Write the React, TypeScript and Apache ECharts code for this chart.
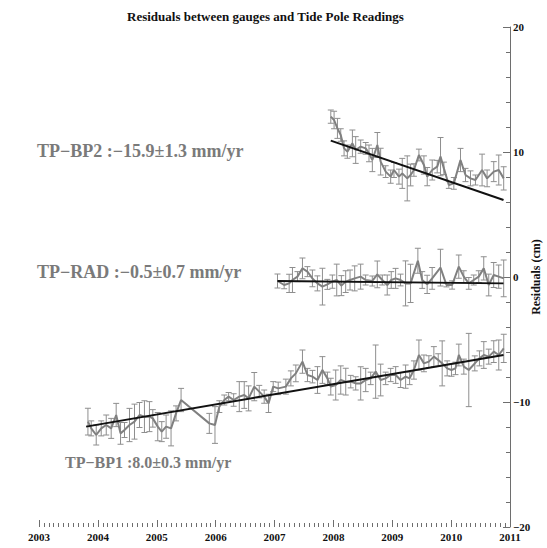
import React, { useEffect, useRef } from "react";
import * as echarts from "echarts";

const titleText = "Residuals between gauges and Tide Pole Readings";
const yAxisName = "Residuals (cm)";

const bp1Years = [2003.831, 2003.887, 2003.972, 2004.057, 2004.142, 2004.226, 2004.311, 2004.385, 2004.452, 2004.537, 2004.622, 2004.707, 2004.791, 2004.876, 2004.933, 2005.017, 2005.085, 2005.159, 2005.243, 2005.328, 2005.413, 2005.893, 2005.989, 2006.063, 2006.147, 2006.221, 2006.306, 2006.402, 2006.486, 2006.56, 2006.656, 2006.741, 2006.825, 2006.899, 2006.978, 2007.063,
  2007.193, 2007.278, 2007.362, 2007.475, 2007.56, 2007.645, 2007.73, 2007.814, 2007.899, 2007.956, 2008.04, 2008.125, 2008.21, 2008.295, 2008.379, 2008.464, 2008.549, 2008.634, 2008.718, 2008.803, 2008.888, 2008.973, 2009.058, 2009.142, 2009.227, 2009.295, 2009.368, 2009.453, 2009.538, 2009.622, 2009.707, 2009.781, 2009.848, 2009.933, 2010.006, 2010.074, 2010.131, 2010.216, 2010.3, 2010.402, 2010.481, 2010.555, 2010.639, 2010.724, 2010.809, 2010.894];
const bp1Values = [-11.57, -12.11, -12.64, -12.11, -11.84, -12.11, -11.04, -12.51, -12.24, -11.84, -11.57, -11.04, -11.17, -11.17, -11.31, -11.97, -12.37, -11.97, -12.11, -10.91, -9.84, -11.71, -11.84, -10.37, -9.84, -9.57, -9.84, -9.57, -9.44, -9.71, -8.77, -9.17, -9.57, -10.11, -8.77, -8.91,
  -8.77, -8.11, -7.71, -6.77, -7.84, -7.97, -8.24, -7.44, -8.11, -8.77, -8.64, -8.24, -8.37, -8.37, -8.51, -8.51, -8.24, -8.11, -7.57, -8.24, -8.11, -7.84, -7.84, -8.24, -7.97, -8.11, -7.44, -6.24, -6.91, -6.77, -6.37, -6.64, -6.91, -7.31, -7.44, -7.31, -6.24, -7.17, -7.44, -6.91, -6.51, -6.24, -6.37, -5.97, -6.24, -5.71];
const bp1Errors = [1.07, 0.6, 0.8, 0.6, 0.8, 0.8, 0.93, 0.87, 0.6, 1.33, 1.4, 1.0, 1.27, 1.2, 0.7, 1.13, 0.8, 0.93, 1.4, 0.6, 0.93, 0.8, 1.47, 0.47, 0.4, 0.33, 0.5, 1.2, 1.07, 1.0, 1.13, 0.5, 0.53, 0.73, 0.4, 0.5,
  0.6, 0.6, 0.67, 0.93, 0.53, 0.5, 1.07, 1.07, 0.5, 0.67, 1.2, 1.13, 1.07, 0.5, 0.53, 1.33, 0.93, 0.5, 2.13, 1.27, 0.5, 0.53, 0.67, 0.6, 0.93, 0.5, 0.73, 1.2, 0.67, 0.47, 0.8, 0.5, 1.8, 0.6, 0.5, 0.5, 0.87, 0.6, 2.93, 0.6, 0.6, 1.07, 0.6, 0.87, 1.2, 1.13];

const radYears = [2007.051, 2007.164, 2007.249, 2007.305, 2007.39, 2007.475, 2007.559, 2007.644, 2007.729, 2007.814, 2007.898, 2007.983, 2008.057, 2008.136, 2008.209, 2008.283, 2008.362, 2008.463, 2008.548, 2008.661, 2008.746, 2008.831, 2008.915, 2008.983, 2009.057, 2009.141, 2009.226, 2009.311, 2009.435, 2009.509, 2009.593, 2009.678, 2009.819, 2009.921, 2010.017, 2010.13, 2010.215, 2010.3, 2010.384, 2010.469, 2010.554, 2010.639, 2010.723, 2010.808, 2010.893];
const radValues = [-0.32, -0.64, -0.51, -0.24, 0.03, 0.69, 0.43, -0.11, -0.51, -0.77, -0.59, -0.37, -0.24, -0.69, -0.37, -0.24, -0.11, 0.03, -0.24, -0.32, 0.21, -0.24, -0.64, -0.24, -0.11, -0.24, -0.51, -0.51, 1.3, -0.24, -0.59, -0.11, 0.75, -0.64, -0.64, 0.83, 0.03, -0.51, -0.24, 0.03, 0.69, -0.64, 0.16, 0.03, -0.11];
const radErrors = [0.56, 0.3, 0.73, 1.0, 0.4, 0.83, 0.4, 0.67, 0.6, 1.47, 0.4, 0.53, 1.27, 0.8, 0.87, 0.8, 1.0, 1.0, 0.4, 0.4, 1.07, 0.4, 0.8, 0.67, 0.8, 0.47, 1.8, 1.53, 1.0, 0.67, 0.73, 0.87, 1.47, 0.15, 0.33, 0.93, 0.47, 0.47, 0.4, 0.47, 0.93, 0.87, 1.0, 0.93, 1.47];

const bp2Years = [2007.956, 2008.012, 2008.069, 2008.125, 2008.182, 2008.238, 2008.323, 2008.379, 2008.464, 2008.549, 2008.605, 2008.662, 2008.747, 2008.803, 2008.888, 2008.973, 2009.029, 2009.114, 2009.17, 2009.255, 2009.312, 2009.368, 2009.453, 2009.538, 2009.594, 2009.679, 2009.764, 2009.82, 2009.877, 2009.961, 2010.046, 2010.159, 2010.244, 2010.329, 2010.413, 2010.526, 2010.611, 2010.724, 2010.809, 2010.893];
const bp2Values = [12.83, 12.56, 11.89, 11.36, 10.29, 10.03, 10.69, 10.16, 10.43, 10.29, 9.89, 9.36, 10.56, 9.23, 8.43, 8.03, 8.56, 8.03, 8.29, 7.89, 8.16, 8.56, 9.76, 8.96, 8.03, 8.56, 8.83, 9.63, 8.69, 7.36, 7.49, 9.36, 8.16, 7.89, 7.76, 8.56, 7.89, 8.43, 8.56, 7.89];
const bp2Errors = [0.53, 0.7, 0.8, 0.5, 0.6, 0.53, 1.07, 1.07, 0.53, 0.47, 0.67, 0.93, 1.0, 1.07, 0.47, 0.53, 0.6, 0.6, 1.2, 1.8, 0.87, 0.5, 0.47, 0.73, 0.73, 0.8, 0.5, 1.53, 0.5, 0.27, 0.47, 0.93, 0.53, 0.6, 0.4, 1.27, 0.67, 0.8, 1.2, 0.93];

const bp1TrendYears = [2003.8, 2010.89];
const bp1TrendValues = [-11.97, -6.24];
const radTrendYears = [2007.05, 2010.89];
const radTrendValues = [-0.32, -0.51];
const bp2TrendYears = [2007.956, 2010.89];
const bp2TrendValues = [10.91, 6.16];

const labelBP2 = "TP\u2212BP2 :\u221215.9\u00b11.3 mm/yr";
const labelRAD = "TP\u2212RAD :\u22120.5\u00b10.7 mm/yr";
const labelBP1 = "TP\u2212BP1 :8.0\u00b10.3 mm/yr";

const SERIF = '"Liberation Serif", "Times New Roman", "DejaVu Serif", serif';
const AXIS_GRAY = "#6e6e6e";
const LINE_GRAY = "#808080";
const ERR_GRAY = "#8e8e8e";

function pairs(xs: number[], ys: number[]) {
  return xs.map((x, i) => [x, ys[i]]);
}
function errData(xs: number[], ys: number[], es: number[]) {
  return xs.map((x, i) => [x, ys[i] - es[i], ys[i] + es[i]]);
}

const renderErr = (params: any, api: any) => {
  const x = api.value(0);
  const lo = api.coord([x, api.value(1)]);
  const hi = api.coord([x, api.value(2)]);
  const w = 3;
  const style = { stroke: ERR_GRAY, lineWidth: 1, fill: "none" };
  return {
    type: "group",
    children: [
      { type: "line", shape: { x1: lo[0], y1: lo[1], x2: hi[0], y2: hi[1] }, style },
      { type: "line", shape: { x1: lo[0] - w, y1: lo[1], x2: lo[0] + w, y2: lo[1] }, style },
      { type: "line", shape: { x1: hi[0] - w, y1: hi[1], x2: hi[0] + w, y2: hi[1] }, style },
    ],
  };
};

export default function App() {
  const ref = useRef<HTMLDivElement>(null);
  useEffect(() => {
    if (!ref.current) return;
    const chart = echarts.init(ref.current, undefined, { renderer: "svg" });
    const errSeries = (xs: number[], ys: number[], es: number[]) => ({
      type: "custom",
      renderItem: renderErr,
      data: errData(xs, ys, es),
      encode: { x: 0, y: [1, 2] },
      silent: true,
      z: 1,
    });
    const dataLine = (xs: number[], ys: number[]) => ({
      type: "line",
      data: pairs(xs, ys),
      showSymbol: false,
      symbol: "none",
      lineStyle: { color: LINE_GRAY, width: 2 },
      z: 2,
    });
    const trendLine = (xs: number[], ys: number[]) => ({
      type: "line",
      data: pairs(xs, ys),
      showSymbol: false,
      symbol: "none",
      lineStyle: { color: "#111", width: 2 },
      z: 3,
    });
    const labelText = (text: string, left: number, top: number, size: number) => ({
      type: "text",
      left,
      top,
      style: { text, font: `bold ${size}px ${SERIF}`, fill: "#7a7a7a" },
    });
    chart.setOption({
      animation: false,
      backgroundColor: "#fff",
      title: {
        text: titleText,
        left: 122,
        top: 5,
        textStyle: { fontFamily: SERIF, fontWeight: "bold", fontSize: 13, color: "#111" },
      },
      grid: { left: 39, right: 37, top: 27, bottom: 21, containLabel: false, outerBoundsMode: "none" },
      xAxis: {
        type: "value",
        min: 2003,
        max: 2011,
        interval: 1,
        axisLine: { show: false, onZero: false },
        axisTick: { show: true, inside: true, length: 7, lineStyle: { color: AXIS_GRAY } },
        minorTick: { show: true, splitNumber: 12, length: 4, lineStyle: { color: AXIS_GRAY } },
        axisLabel: {
          fontFamily: SERIF,
          fontWeight: "bold",
          fontSize: 11,
          color: "#111",
          margin: 4,
          formatter: (v: number) => String(Math.round(v)),
        },
        splitLine: { show: false },
        minorSplitLine: { show: false },
      },
      yAxis: {
        type: "value",
        position: "right",
        min: -20,
        max: 20,
        interval: 10,
        axisLine: { show: true, onZero: false, lineStyle: { color: AXIS_GRAY, width: 1 } },
        axisTick: { show: true, inside: true, length: 7, lineStyle: { color: AXIS_GRAY } },
        minorTick: { show: true, splitNumber: 5, length: 4, lineStyle: { color: AXIS_GRAY } },
        axisLabel: {
          fontFamily: SERIF,
          fontWeight: "bold",
          fontSize: 11,
          color: "#111",
          margin: 3,
          formatter: (v: number) => String(v).replace("-", "\u2212"),
        },
        splitLine: { show: false },
        minorSplitLine: { show: false },
      },
      graphic: [
        labelText(labelBP2, 37, 142, 18),
        labelText(labelRAD, 37, 263, 18),
        labelText(labelBP1, 65, 454, 16),
        {
          type: "text",
          x: 536,
          y: 277,
          rotation: Math.PI / 2,
          style: {
            text: yAxisName,
            font: `bold 12px ${SERIF}`,
            fill: "#111",
            textAlign: "center",
            textVerticalAlign: "middle",
            align: "center",
            verticalAlign: "middle",
          },
        },
      ],
      series: [
        errSeries(bp1Years, bp1Values, bp1Errors),
        errSeries(radYears, radValues, radErrors),
        errSeries(bp2Years, bp2Values, bp2Errors),
        dataLine(bp1Years, bp1Values),
        dataLine(radYears, radValues),
        dataLine(bp2Years, bp2Values),
        trendLine(bp1TrendYears, bp1TrendValues),
        trendLine(radTrendYears, radTrendValues),
        trendLine(bp2TrendYears, bp2TrendValues),
      ],
    });
    return () => chart.dispose();
  }, []);
  return (
    <div
      ref={ref}
      style={{ position: "fixed", left: 0, top: 0, width: 547, height: 548, background: "#fff" }}
    />
  );
}
